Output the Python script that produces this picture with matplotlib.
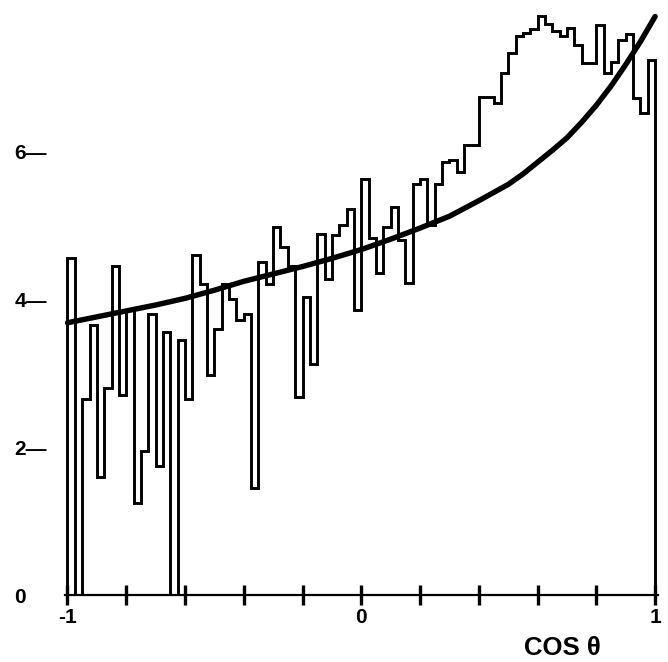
import numpy as np
import matplotlib.pyplot as plt

plt.rcParams['font.family'] = ['Liberation Sans', 'DejaVu Sans']
plt.rcParams['font.weight'] = 'bold'

# histogram, 80 bins over cos(theta) from -1 to 1
counts = [4.55, 0.0, 2.65, 3.65, 1.6, 2.8, 4.45, 2.7, 3.85, 1.25,
          1.95, 3.8, 1.75, 3.55, 0.0, 3.45, 2.65, 4.6, 4.2, 2.97,
          3.6, 4.2, 4.0, 3.72, 3.8, 1.45, 4.5, 4.2, 4.98, 4.7,
          4.45, 2.67, 4.03, 3.12, 4.88, 4.27, 4.87, 5.0, 5.22, 3.85,
          5.63, 4.82, 4.35, 4.97, 5.25, 4.8, 4.22, 5.55, 5.63, 5.0,
          5.55, 5.85, 5.88, 5.72, 6.08, 6.08, 6.73, 6.73, 6.65, 7.05,
          7.32, 7.55, 7.6, 7.65, 7.83, 7.72, 7.62, 7.55, 7.66, 7.44,
          7.19, 7.19, 7.7, 7.05, 7.2, 7.5, 7.58, 6.72, 6.52, 7.23]
edges = np.linspace(-1, 1, len(counts) + 1)

# fitted curve
fit_x = [-1.0, -0.9, -0.8, -0.7, -0.6, -0.5, -0.4, -0.3, -0.2, -0.1,
         0.0, 0.1, 0.2, 0.3, 0.4, 0.5, 0.55, 0.6, 0.65, 0.7,
         0.75, 0.8, 0.85, 0.9, 0.95, 1.0]
fit_y = [3.68, 3.76, 3.84, 3.92, 4.01, 4.12, 4.24, 4.34, 4.44, 4.55,
         4.67, 4.81, 4.96, 5.12, 5.33, 5.55, 5.69, 5.85, 6.01, 6.18,
         6.39, 6.62, 6.88, 7.17, 7.48, 7.82]

xticks = [-1, -0.8, -0.6, -0.4, -0.2, 0, 0.2, 0.4, 0.6, 0.8, 1]
xticklabels = ['-1', '', '', '', '', '0', '', '', '', '', '1']
yticks = [0, 2, 4, 6]
yticklabels = ['0', '2\u2014', '4\u2014', '6\u2014']

fig = plt.figure(figsize=(6.68, 6.62), dpi=100)
ax = fig.add_axes([0.0966, 0.1012, 0.8885, 0.894])

ax.stairs(counts, edges, baseline=0, color='black', lw=2.1)
ax.plot(fit_x, fit_y, color='black', lw=3.9, solid_capstyle='round',
        solid_joinstyle='round')

ax.set_xlim(-1.01, 1.01)
ax.set_ylim(0, 8)

for s in ['left', 'top', 'right']:
    ax.spines[s].set_visible(False)
ax.spines['bottom'].set_linewidth(1.6)

ax.set_xticks(xticks, xticklabels)
ax.tick_params(axis='x', direction='inout', length=15, width=2.4,
               labelsize=15, pad=2)
ax.set_yticks(yticks, yticklabels)
ax.tick_params(axis='y', length=0, labelsize=15, pad=36)
for lbl in ax.get_yticklabels():
    lbl.set_horizontalalignment('left')

fig.text(562 / 668, 1 - 648 / 662, 'COS \u03b8', ha='center', va='center',
         fontsize=18.5, fontweight='bold')

fig.savefig('out.png', dpi=100)
